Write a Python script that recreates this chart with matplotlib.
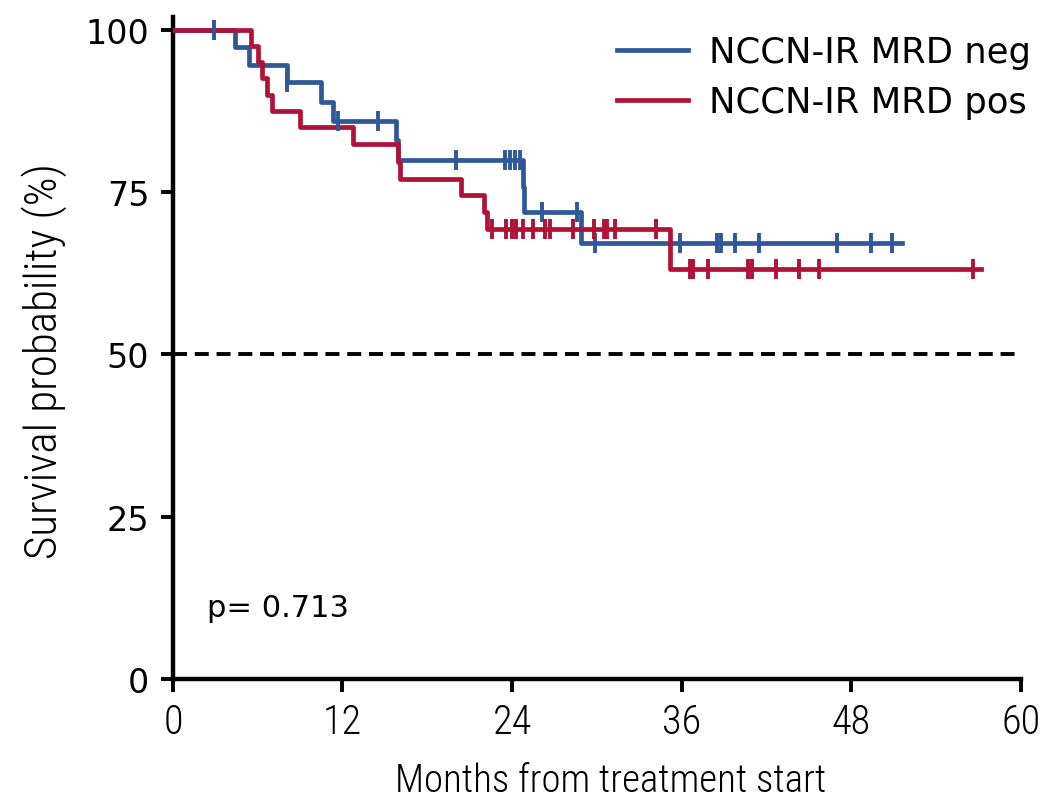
"""Kaplan-Meier survival curves: NCCN-IR MRD neg vs pos."""

import matplotlib
import numpy as np

matplotlib.use("Agg")
from matplotlib import font_manager
from matplotlib import pyplot as plt

# step curves (month of each drop, survival % after it)
neg_times = [0, 4.4, 5.35, 8.05, 10.5, 11.35, 15.8, 15.9, 24.75, 24.85, 28.9, 51.6]
neg_surv = [100, 97.3, 94.5, 91.9, 88.9, 86.0, 83.0, 80.0, 75.8, 71.9, 67.1, 67.1]
neg_censor = [2.9, 8.1, 11.7, 14.5, 20.0, 23.5, 23.85, 24.2, 24.55, 26.1, 28.6,
              29.9, 35.9, 38.5, 38.8, 39.8, 41.5, 47.0, 49.4, 50.9]

pos_times = [0, 5.55, 6.05, 6.3, 6.65, 7.0, 9.0, 12.75, 15.95, 16.1, 20.4, 22.0,
             22.2, 35.2, 57.2]
pos_surv = [100, 97.5, 95.0, 92.5, 90.0, 87.5, 85.0, 82.4, 79.7, 77.0, 74.5, 72.0,
            69.3, 63.2, 63.2]
pos_censor = [22.55, 23.6, 24.0, 24.3, 24.8, 25.5, 26.3, 26.7, 28.3, 29.8, 30.5,
              30.75, 31.3, 34.2, 36.6, 36.8, 37.9, 40.7, 41.0, 42.7, 44.3, 45.7, 56.6]

labels = ["NCCN-IR MRD neg", "NCCN-IR MRD pos"]
colors = ["#2f5899", "#b01238"]
x_ticks = [0, 12, 24, 36, 48, 60]
y_ticks = [0, 25, 50, 75, 100]
p_text = "p= 0.713"

# chọn font hẹp nếu có, nếu không thì dùng DejaVu Sans
_installed = {f.name for f in font_manager.fontManager.ttflist}
_narrow = [
    name
    for name in ("Liberation Sans Narrow", "DejaVu Sans Condensed", "Roboto Condensed")
    if name in _installed
]
NARROW = (_narrow[:1] or []) + ["DejaVu Sans"]
HAS_NARROW = bool(_narrow)


def _level_at(times, surv, t):
    """Giá trị survival của step curve tại thời điểm t."""
    idx = np.searchsorted(times, t, side="right") - 1
    return np.asarray(surv)[idx]


fig = plt.figure(figsize=(10.48, 8.04), dpi=100)
ax = fig.add_axes([0.165, 0.154, 0.809, 0.824])

ax.axhline(50, color="black", lw=2.8, ls=(0, (3.6, 2.0)), zorder=1)

curves = (
    (neg_times, neg_surv, neg_censor),
    (pos_times, pos_surv, pos_censor),
)
for (times, surv, censor), label, color in zip(curves, labels, colors, strict=True):
    ax.step(times, surv, where="post", color=color, lw=3.4, label=label, zorder=3)
    ax.plot(
        censor,
        _level_at(times, surv, censor),
        ls="none",
        marker="|",
        markersize=15,
        markeredgewidth=2.8,
        color=color,
        zorder=4,
    )

ax.set_xlim(0, 60)
ax.set_ylim(0, 102)
ax.set_xticks(x_ticks)
ax.set_yticks(y_ticks)
for spine in ("top", "right"):
    ax.spines[spine].set_visible(False)
for spine in ("left", "bottom"):
    ax.spines[spine].set_linewidth(3.2)
ax.tick_params(axis="both", length=9, width=2.8, pad=8)
ax.tick_params(axis="y", labelsize=24)
ax.tick_params(axis="x", labelsize=29 if HAS_NARROW else 24)
for label in ax.get_xticklabels():
    label.set_family(NARROW)
    label.set_weight("light")

ax.set_xlabel(
    "Months from treatment start",
    fontsize=28 if HAS_NARROW else 22.5,
    family=NARROW,
    weight="light",
)
ax.set_ylabel(
    "Survival probability (%)",
    fontsize=32.5 if HAS_NARROW else 25,
    family=NARROW,
    weight="light",
)
ax.xaxis.set_label_coords(0.516, -0.124)
ax.yaxis.set_label_coords(-0.125, 0.482)

ax.text(2.4, 11.0, p_text, fontsize=22, ha="left", va="center")

ax.legend(
    loc="upper right",
    bbox_to_anchor=(1.05, 1.02),
    frameon=False,
    fontsize=25.5,
    handlelength=2.0,
    handletextpad=0.6,
    labelspacing=0.45,
)

fig.savefig("out.png", dpi=100)
plt.close(fig)
